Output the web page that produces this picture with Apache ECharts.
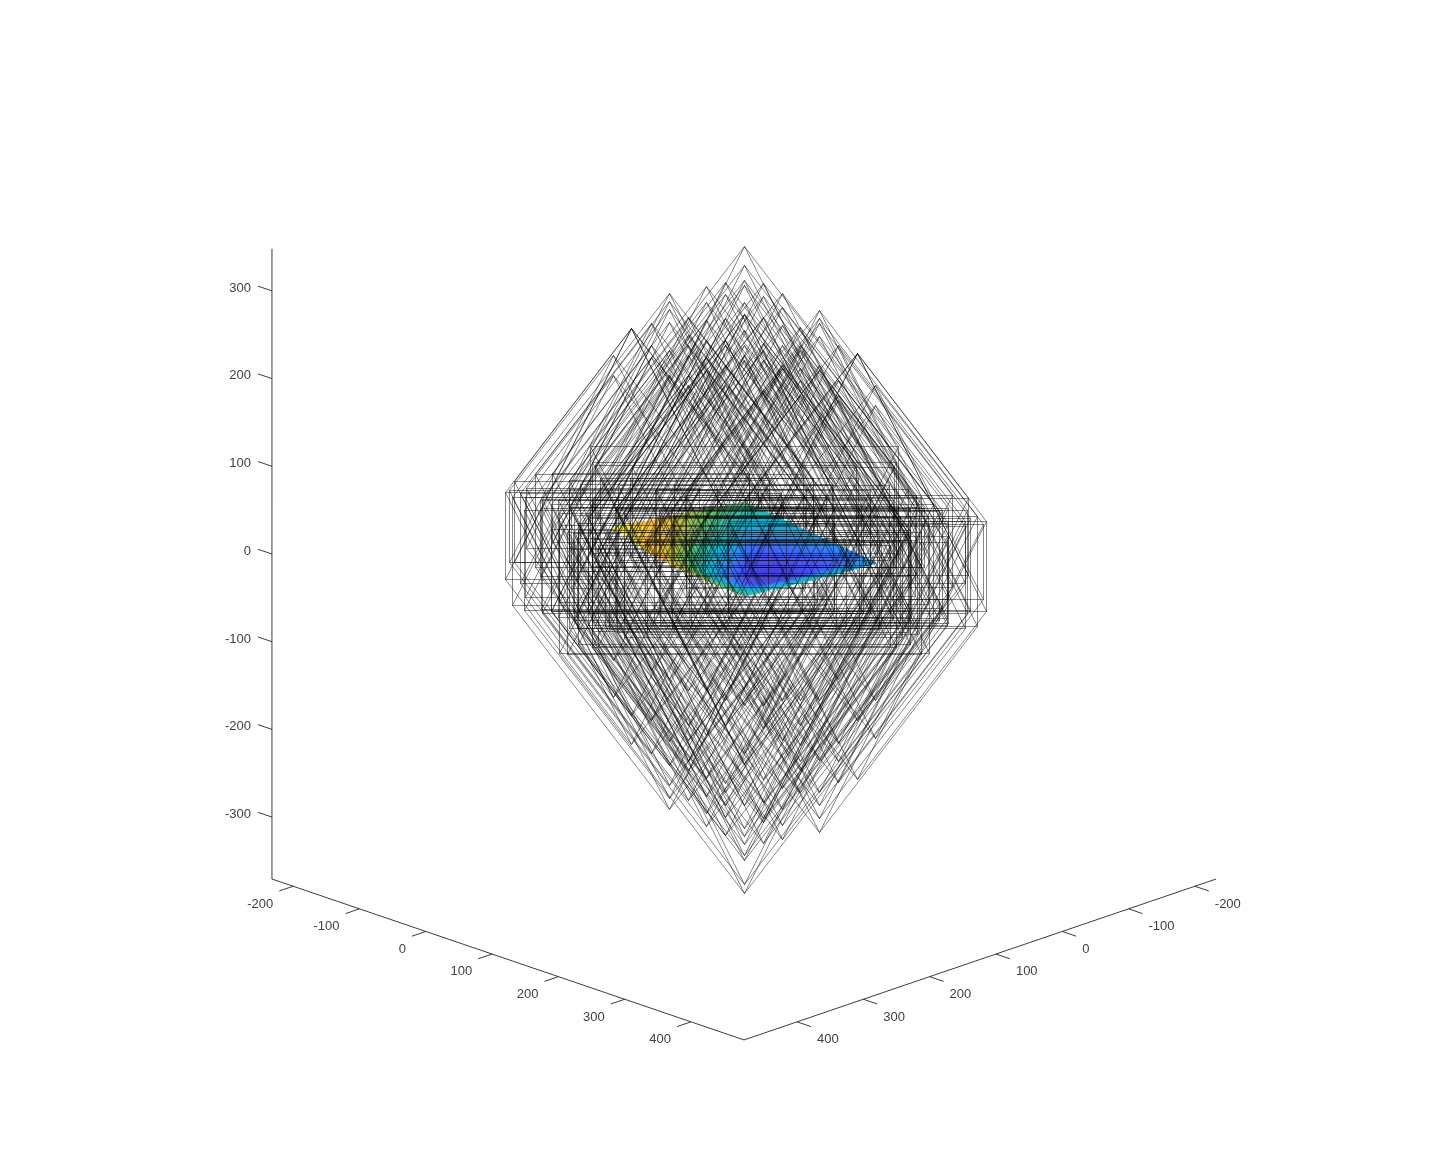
<!DOCTYPE html>
<html><head><meta charset="utf-8">
<style>html,body{margin:0;padding:0;background:#fff}#c{width:1438px;height:1170px}</style>
<script src="https://cdn.jsdelivr.net/npm/echarts@6/dist/echarts.min.js"></script>
</head><body><div id="c"></div>
<script>
// axis values
const aTicks=[-200,-100,0,100,200,300,400];
const bTicks=[-200,-100,0,100,200,300,400];
const zTicks=[-300,-200,-100,0,100,200,300];
const axisMinH=-232, axisMaxH=480, axisMinZ=-370.6, axisMaxZ=348;
// wire octahedra: horizontal position (a-b), top and bottom apex heights
const octaU=[0,0,0,0,0,0,0,0,0,0,0,
 -28,-28,-28,-28,-28,-28,-28, 28,28,28,28,28,28,28,
 -57,-57,-57,-57,-57,-57, 57,57,57,57,57,57,
 -85,-85,-85,-85,-85,-85, 85,85,85,85,85,85,
 -113,-113,-113,-113,-113,-113, 113,113,113,113,113,113,
 -141,-141,-141, 141,141,141,141, -170,-170, 170,170, -198,-198, 198,198];
const octaTop=[287,266,249,243,223,210,210,174,157,163,191,
 246,232,205,180,152,129,174, 245,230,206,177,157,123,169,
 242,203,223,161,146,180, 234,197,218,148,152,174,
 206,186,174,163,129,140, 195,174,169,148,117,135,
 234,225,215,201,140,169, 214,200,205,185,146,152,
 199,161,174, 174,135,112,117, 194,194, 165,165, 163,140, 129,106];
const octaBottom=[-291,-303,-407,-451,-440,-376,-413,-395,-350,-385,-236,
 -384,-259,-364,-335,-350,-325,-230, -394,-262,-347,-369,-365,-320,-236,
 -374,-270,-359,-319,-340,-219, -389,-276,-373,-331,-355,-230,
 -344,-259,-310,-276,-300,-219, -335,-259,-310,-282,-300,-230,
 -355,-277,-327,-342,-305,-207, -381,-299,-350,-365,-335,-230,
 -291,-253,-196, -324,-279,-300,-207, -280,-248, -320,-253, -227,-185, -274,-230];
// surface
const surfA=[15,35,55,75,95,115,135,155,175,195,215];
const surfB=[15,35,55,75,95,115,135,155,175,195,215];
const surfZ=[
[3,5,7,10,12,14,16,18,21,23,25],
[1,1,2,4,6,8,10,13,15,18,22],
[0,-1,-1,0,1,3,5,8,11,13,16],
[-2,-3,-4,-4,-3,-1,1,3,6,8,11],
[-4,-6,-7,-7,-7,-6,-4,-2,1,3,8],
[-6,-8,-9,-10,-10,-9,-8,-6,-3,0,6],
[-8,-9,-10,-11,-11,-11,-10,-8,-6,-3,4],
[-9,-10,-11,-12,-12,-12,-11,-9,-7,-4,2],
[-11,-12,-12,-12,-12,-12,-11,-9,-7,-4,1],
[-13,-13,-12,-12,-11,-10,-9,-7,-5,-3,0],
[-15,-14,-13,-12,-10,-9,-7,-6,-4,-3,-1]];
const surfC=[
[58,60,62,66,72,78,84,88,92,96,100],
[52,50,52,56,62,70,78,84,88,92,96],
[45,40,38,42,50,58,68,76,84,88,92],
[40,32,28,28,34,42,52,62,72,82,88],
[36,28,22,18,20,28,36,46,58,72,86],
[33,24,20,16,14,17,22,30,42,60,82],
[30,22,18,14,11,10,12,18,28,48,78],
[27,20,16,13,10,8,8,11,18,38,74],
[25,18,14,12,10,8,7,9,12,30,68],
[24,18,16,14,12,10,9,9,12,30,62],
[28,30,34,38,42,44,44,46,48,50,52]];
const parula=['#3e26a8','#4752f4','#2796eb','#08b5d0','#33b8a1','#67bf6b','#b6bd40','#fabb39','#f9fb15'];

const KV=0.2577;                       // plan depth to height on screen
function proj(a,b,z){return [a-b, z-KV*(a+b)];}
function hex(c){return [1,3,5].map(i=>parseInt(c.substr(i,2),16));}
function colorOf(v){
  let t=Math.max(0,Math.min(1,v/100))*(parula.length-1);
  let i=Math.min(parula.length-2,Math.floor(t)),f=t-i,p=hex(parula[i]),q=hex(parula[i+1]);
  return 'rgb('+p.map((x,k)=>Math.round(x+(q[k]-x)*f)).join(',')+')';
}
const crisp=v=>Math.round(v)+0.5;
const wireStyle={stroke:'rgba(0,0,0,0.47)',lineWidth:1,fill:null};

function renderOcta(params,api){
  const u=api.value(0),t=api.value(1),b=api.value(2);
  const r=0.4018*(t-b), m=(t+b)/2, h=0.2616*r;
  const P=(x,y)=>{const p=api.coord([x,y]);return [crisp(p[0]),crisp(p[1])];};
  const T=P(u,t),B=P(u,b);
  const c=[P(u-r,m+h),P(u+r,m+h),P(u+r,m-h),P(u-r,m-h)];
  const kids=[];
  const add=(p,q)=>kids.push({type:'line',silent:true,shape:{x1:p[0],y1:p[1],x2:q[0],y2:q[1]},style:wireStyle});
  for(let i=0;i<4;i++){add(c[i],c[(i+1)%4]);add(T,c[i]);add(B,c[i]);}
  return {type:'group',children:kids};
}
function renderCell(params,api){
  const i=api.value(0),j=api.value(1),S=4,kids=[];
  const mix=(M,s,t)=>(1-s)*(1-t)*M[i][j]+s*(1-t)*M[i+1][j]+(1-s)*t*M[i][j+1]+s*t*M[i+1][j+1];
  const pt=(s,t)=>{
    const a=surfA[i]+s*(surfA[i+1]-surfA[i]),b=surfB[j]+t*(surfB[j+1]-surfB[j]);
    return api.coord(proj(a,b,mix(surfZ,s,t)));
  };
  for(let m=0;m<S;m++)for(let n=0;n<S;n++){
    const col=colorOf(mix(surfC,(m+.5)/S,(n+.5)/S));
    kids.push({type:'polygon',silent:true,shape:{points:[pt(m/S,n/S),pt((m+1)/S,n/S),pt((m+1)/S,(n+1)/S),pt(m/S,(n+1)/S)]},style:{fill:col,stroke:col,lineWidth:0.6}});
  }
  return {type:'group',children:kids};
}
// axes
const axisLines=[
 [proj(axisMinH,axisMaxH,axisMinZ),proj(axisMinH,axisMaxH,axisMaxZ)],
 [proj(axisMinH,axisMaxH,axisMinZ),proj(axisMaxH,axisMaxH,axisMinZ)],
 [proj(axisMaxH,axisMinH,axisMinZ),proj(axisMaxH,axisMaxH,axisMinZ)]];
const TL=21;
aTicks.forEach(v=>axisLines.push([proj(v,axisMaxH,axisMinZ),proj(v,axisMaxH+TL,axisMinZ)]));
bTicks.forEach(v=>axisLines.push([proj(axisMaxH,v,axisMinZ),proj(axisMaxH+TL,v,axisMinZ)]));
zTicks.forEach(v=>axisLines.push([proj(axisMinH,axisMaxH,v),proj(axisMinH-TL,axisMaxH,v)]));
const labels=[];
aTicks.forEach(v=>{const p=proj(v,axisMaxH+TL,axisMinZ);labels.push([p[0],p[1],String(v),'right',-6,13]);});
bTicks.forEach(v=>{const p=proj(axisMaxH+TL,v,axisMinZ);labels.push([p[0],p[1],String(v),'left',6,13]);});
zTicks.forEach(v=>{const p=proj(axisMinH-TL,axisMaxH,v);labels.push([p[0],p[1],String(v),'right',-7,2]);});

const cells=[];
for(let i=0;i<surfA.length-1;i++)for(let j=0;j<surfB.length-1;j++)cells.push([i,j]);
const octaData=octaU.map((u,i)=>[u,octaTop[i],octaBottom[i]]);
const octaBehind=octaData.filter(o=>o[0]<-50), octaFront=octaData.filter(o=>o[0]>=-50);
const base={type:'custom',coordinateSystem:'cartesian2d',clip:false,silent:true,encode:{x:0,y:1}};

const chart=echarts.init(document.getElementById('c'),null,{renderer:'canvas'});
chart.setOption({
  animation:false,backgroundColor:'#fff',
  grid:{left:0,right:0,top:0,bottom:0},
  xAxis:{type:'value',min:-1122.2,max:1046.7,show:false},
  yAxis:{type:'value',min:-766.3,max:567.8,show:false},
  tooltip:{show:false},
  series:[
   Object.assign({},base,{data:octaBehind,renderItem:renderOcta,z:1}),
   Object.assign({},base,{data:cells,renderItem:renderCell,z:2}),
   Object.assign({},base,{data:octaFront,renderItem:renderOcta,z:3}),
   Object.assign({},base,{
    data:axisLines.map(l=>[l[0][0],l[0][1],l[1][0],l[1][1]]),
    renderItem:(p,api)=>{const s=api.coord([api.value(0),api.value(1)]),e=api.coord([api.value(2),api.value(3)]);
      return {type:'line',silent:true,shape:{x1:s[0],y1:s[1],x2:e[0],y2:e[1]},style:{stroke:'#262626',lineWidth:0.9}};},z:4}),
   Object.assign({},base,{
    data:labels.map((l,i)=>[l[0],l[1],i]),
    renderItem:(p,api)=>{const l=labels[api.value(2)],c=api.coord([api.value(0),api.value(1)]);
      return {type:'text',silent:true,style:{text:l[2],x:c[0]+l[4],y:c[1]+l[5],align:l[3],verticalAlign:'middle',fill:'#404040',font:'13px "Liberation Sans",Arial,sans-serif'}};},z:4})
  ]
});
</script></body></html>
